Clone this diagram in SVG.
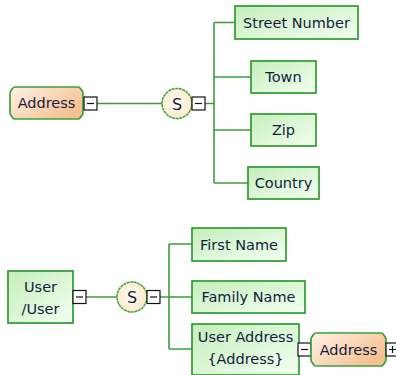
<svg xmlns="http://www.w3.org/2000/svg" width="396" height="375" viewBox="0 0 396 375">
<defs>
<linearGradient id="gGreen" x1="0" y1="0" x2="1" y2="1">
<stop offset="0" stop-color="#c4eebb"/>
<stop offset="1" stop-color="#f3fff1"/>
</linearGradient>
<linearGradient id="gOrange" x1="0" y1="0" x2="1" y2="0.6">
<stop offset="0" stop-color="#fff3e8"/>
<stop offset="1" stop-color="#f6bf90"/>
</linearGradient>
<radialGradient id="gCircle" cx="0.45" cy="0.45" r="0.6">
<stop offset="0" stop-color="#fffaf0"/>
<stop offset="1" stop-color="#fbe9c8"/>
</radialGradient>
</defs>
<style>
.box{fill:url(#gGreen);stroke:#2f9a2f;stroke-width:1.7}
.org{fill:url(#gOrange);stroke:#3aa23a;stroke-width:1.7}
.circ{fill:url(#gCircle);stroke:#3aa23a;stroke-width:1.5;stroke-dasharray:3 0.6}
.tgl{fill:#ffffff;stroke:#111111;stroke-width:1.2}
.sig{stroke:#111111;stroke-width:1.2}
.ln{stroke:#3c9c3c;stroke-width:1.6;fill:none}
text{font-family:"DejaVu Sans",Verdana,sans-serif;font-size:14.5px;fill:#141c40;text-anchor:middle}
.s{font-size:16px}
</style>
<rect width="396" height="375" fill="#ffffff"/>
<g id="connectors">
<path class="ln" d="M97 103.5H162M205 103.5H214M214 22.5V183M214 22.5H235M214 77H251M214 130H251M214 183H248"/>
<path class="ln" d="M86 297H117M160 297H169M169 244V349M169 244H192M169 297H192M169 349H192"/>
</g>
<g id="address-top">
<path class="org" d="M15 87H78Q79.5 87 80.5 88.5L82.5 91.5Q83 92.5 83 94V112Q83 113.5 82.5 114.5L80.5 117.5Q79.5 119 78 119H15Q13.5 119 12.5 117.5L10.5 114.5Q10 113.5 10 112V94Q10 92.5 10.5 91.5L12.5 88.5Q13.5 87 15 87Z"/>
<text x="46.5" y="108">Address</text>
<rect class="tgl" x="84" y="97" width="13" height="13"/>
<path class="sig" d="M87 103.5H94"/>
</g>
<g id="seq-top">
<circle class="circ" cx="177" cy="103.5" r="15"/>
<text class="s" x="177" y="109.5">S</text>
<rect class="tgl" x="192" y="97" width="13" height="13"/>
<path class="sig" d="M195 103.5H202"/>
</g>
<g id="street-number">
<rect class="box" x="235" y="6" width="123" height="33"/>
<text x="296.5" y="28">Street Number</text>
</g>
<g id="town">
<rect class="box" x="251" y="61" width="65" height="32"/>
<text x="283.5" y="82">Town</text>
</g>
<g id="zip">
<rect class="box" x="251" y="114" width="65" height="32"/>
<text x="283.5" y="135">Zip</text>
</g>
<g id="country">
<rect class="box" x="248" y="167" width="71" height="32"/>
<text x="283.5" y="188">Country</text>
</g>
<g id="user">
<rect class="box" x="8" y="271" width="65" height="52"/>
<text x="40.5" y="292">User</text>
<text x="40.5" y="314">/User</text>
<rect class="tgl" x="73" y="290.5" width="13" height="13"/>
<path class="sig" d="M76 297H83"/>
</g>
<g id="seq-bottom">
<circle class="circ" cx="132" cy="297" r="15"/>
<text class="s" x="132" y="303">S</text>
<rect class="tgl" x="147" y="290.5" width="13" height="13"/>
<path class="sig" d="M150 297H157"/>
</g>
<g id="first-name">
<rect class="box" x="192" y="228" width="94" height="33"/>
<text x="239" y="249.5">First Name</text>
</g>
<g id="family-name">
<rect class="box" x="192" y="281" width="113" height="32"/>
<text x="248.5" y="302">Family Name</text>
</g>
<g id="user-address">
<rect class="box" x="192" y="324" width="107" height="51"/>
<text x="245.5" y="342">User Address</text>
<text x="245.5" y="364">{Address}</text>
<rect class="tgl" x="298" y="343" width="13" height="13"/>
<path class="sig" d="M301 349.5H308"/>
</g>
<g id="address-bottom">
<path class="org" d="M316 333H381Q382.5 333 383.5 334.5L385.5 337.5Q386 338.5 386 340V359Q386 360.5 385.5 361.5L383.5 364.5Q382.5 366 381 366H316Q314.5 366 313.5 364.5L311.5 361.5Q311 360.5 311 359V340Q311 338.5 311.5 337.5L313.5 334.5Q314.5 333 316 333Z"/>
<text x="348.5" y="355">Address</text>
<rect class="tgl" x="386" y="343" width="13" height="13"/>
<path class="sig" d="M389 349.5H396M392.5 346V353"/>
</g>
</svg>
